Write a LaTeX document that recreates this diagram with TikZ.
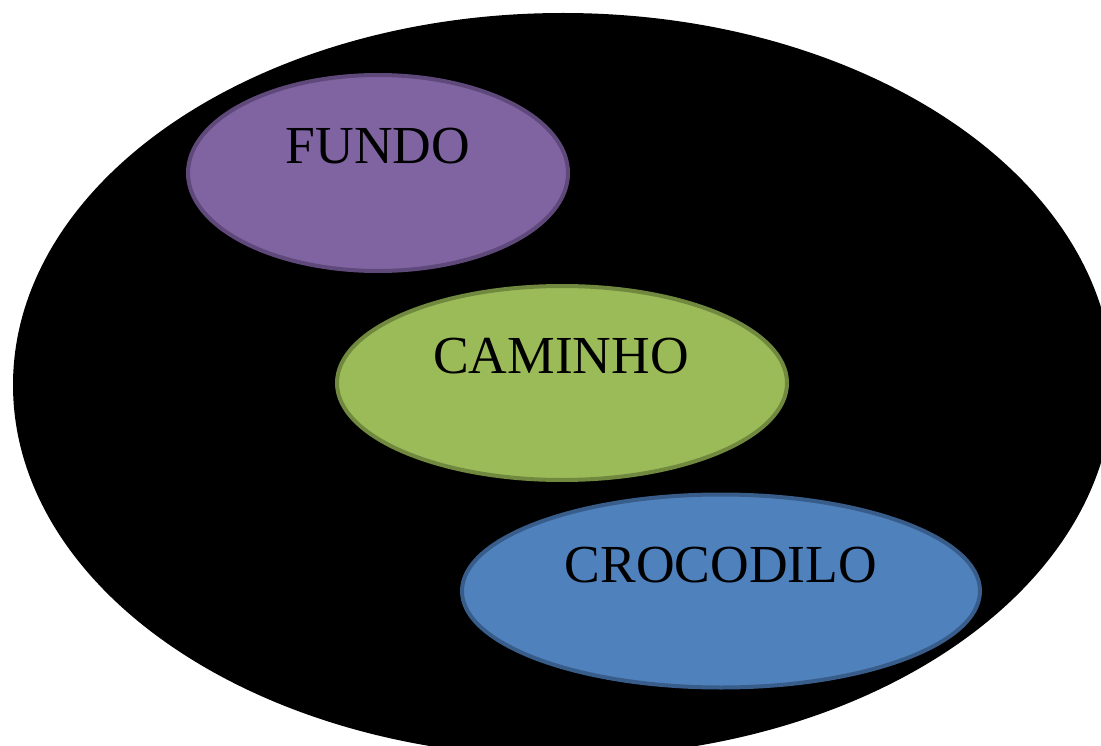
\documentclass[tikz,border=0pt]{standalone}
\usepackage{fontspec}
\setmainfont{Liberation Serif}
\usetikzlibrary{shapes.geometric}
\begin{document}
\begin{tikzpicture}[x=1pt,y=-1pt,
  blob/.style={ellipse,inner sep=0pt,line width=4pt},
  word/.style={anchor=base,font=\fontsize{53.5}{54}\selectfont,text=black,inner sep=0pt}]
\useasboundingbox (0,0) rectangle (1101,746);
\clip (0,0) rectangle (1101,746);
% outer black set
\node[ellipse,fill=black,inner sep=0pt,minimum width=1100pt,minimum height=744pt] (outer) at (563,385) {};
% inner sets
\node[blob,fill={rgb,255:red,128;green,100;blue,162},draw={rgb,255:red,94;green,73;blue,122},minimum width=380pt,minimum height=196pt] (fundo) at (378,173) {};
\node[blob,fill={rgb,255:red,155;green,187;blue,89},draw={rgb,255:red,113;green,137;blue,63},minimum width=450pt,minimum height=194pt] (caminho) at (562,383) {};
\node[blob,fill={rgb,255:red,79;green,129;blue,189},draw={rgb,255:red,56;green,93;blue,138},minimum width=518pt,minimum height=193pt] (croco) at (721,591) {};
% labels
\node[word] (tfundo) at (378,164) {FUNDO};
\node[word] (tcaminho) at (561,373) {CAMINHO};
\node[word] (tcroco) at (721,582) {CROCODILO};
\end{tikzpicture}
\end{document}
